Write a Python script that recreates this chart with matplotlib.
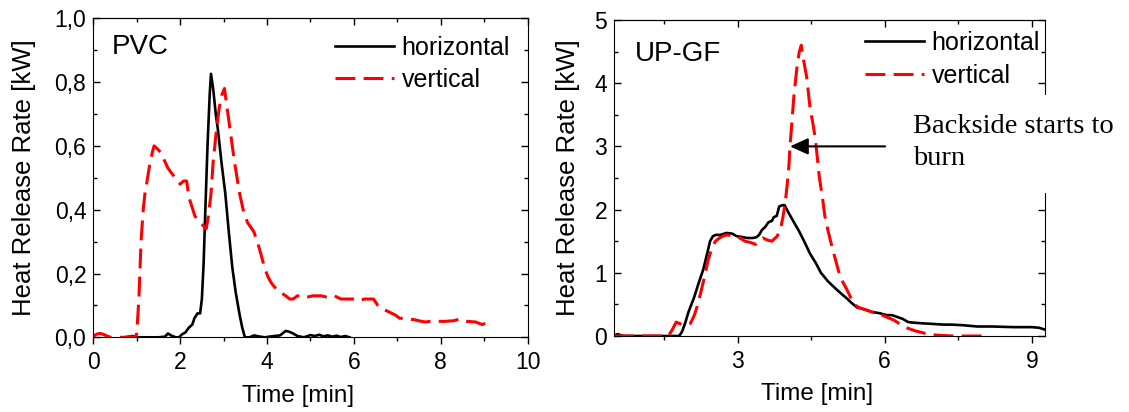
import matplotlib.pyplot as plt
from matplotlib.ticker import MultipleLocator, FuncFormatter
from matplotlib.patches import Rectangle

plt.rcParams['font.family'] = ['Liberation Sans', 'DejaVu Sans']

# PVC, horizontal sample
pvc_h_t = [0.75, 0.9, 1.0, 1.5, 1.65, 1.72, 1.8, 1.9, 1.97, 2.05, 2.12, 2.2, 2.28, 2.33,
           2.4, 2.46, 2.5, 2.54, 2.58, 2.63, 2.68, 2.71, 2.76, 2.82, 2.87, 2.95, 3.04,
           3.12, 3.2, 3.28, 3.37, 3.43, 3.49, 3.6, 3.7, 3.8, 3.95, 4.1, 4.3, 4.43, 4.5,
           4.6, 4.7, 4.85, 5.0, 5.1, 5.2, 5.3, 5.4, 5.5, 5.6, 5.7, 5.8, 5.9]
pvc_h = [0.0, 0.004, 0.0, 0.0, 0.002, 0.012, 0.005, 0.0, 0.0, 0.01, 0.015, 0.03, 0.04,
         0.06, 0.075, 0.075, 0.12, 0.23, 0.4, 0.6, 0.76, 0.826, 0.78, 0.7, 0.65, 0.55,
         0.45, 0.33, 0.22, 0.14, 0.07, 0.03, 0.0, 0.0, 0.006, 0.003, 0.0, 0.003, 0.006,
         0.02, 0.018, 0.012, 0.004, 0.0, 0.007, 0.004, 0.008, 0.003, 0.006, 0.002,
         0.005, 0.001, 0.004, 0.0]

# PVC, vertical sample
pvc_v_t = [0.0, 0.08, 0.15, 0.22, 0.3, 0.4, 0.55, 0.7, 0.85, 0.95, 1.0, 1.05, 1.1, 1.15,
           1.19, 1.25, 1.31, 1.36, 1.4, 1.48, 1.55, 1.62, 1.72, 1.8, 1.89, 2.0, 2.08,
           2.15, 2.2, 2.27, 2.34, 2.4, 2.46, 2.53, 2.6, 2.65, 2.71, 2.76, 2.82, 2.9,
           2.96, 3.02, 3.08, 3.15, 3.25, 3.37, 3.45, 3.55, 3.7, 3.82, 3.94, 4.02, 4.1,
           4.22, 4.32, 4.43, 4.52, 4.6, 4.7, 4.8, 4.9, 5.05, 5.25, 5.4, 5.55, 5.7, 5.85,
           6.0, 6.1, 6.25, 6.45, 6.55, 6.65, 6.8, 6.95, 7.05, 7.2, 7.4, 7.55, 7.65,
           7.75, 7.9, 8.1, 8.3, 8.45, 8.6, 8.8, 8.95, 9.05, 9.2]
pvc_v = [0.003, 0.01, 0.012, 0.01, 0.005, 0.0, 0.0, 0.0, 0.002, 0.0, 0.01, 0.12, 0.3,
         0.4, 0.45, 0.5, 0.55, 0.58, 0.6, 0.59, 0.58, 0.56, 0.53, 0.515, 0.5, 0.48,
         0.49, 0.49, 0.44, 0.41, 0.38, 0.37, 0.36, 0.35, 0.34, 0.38, 0.45, 0.55, 0.63,
         0.72, 0.76, 0.78, 0.72, 0.65, 0.55, 0.45, 0.4, 0.36, 0.33, 0.28, 0.22, 0.19,
         0.17, 0.15, 0.14, 0.13, 0.12, 0.12, 0.13, 0.13, 0.125, 0.13, 0.13, 0.125,
         0.13, 0.12, 0.12, 0.12, 0.115, 0.12, 0.12, 0.1, 0.09, 0.08, 0.07, 0.06, 0.058,
         0.055, 0.05, 0.048, 0.05, 0.05, 0.05, 0.052, 0.058, 0.05, 0.048, 0.04, 0.045,
         0.045]

# UP-GF, horizontal sample
upgf_h_t = [0.48, 0.52, 0.56, 0.62, 0.7, 0.9, 1.2, 1.5, 1.7, 1.81, 1.87, 1.93, 2.0, 2.11,
            2.2, 2.3, 2.38, 2.44, 2.5, 2.56, 2.65, 2.78, 2.89, 2.98, 3.07, 3.2, 3.3,
            3.38, 3.44, 3.5, 3.56, 3.63, 3.7, 3.74, 3.8, 3.85, 3.92, 3.96, 4.04, 4.15,
            4.26, 4.37, 4.48, 4.6, 4.7, 4.85, 5.0, 5.1, 5.22, 5.33, 5.44, 5.6, 5.74,
            5.9, 6.04, 6.15, 6.26, 6.37, 6.48, 6.6, 6.78, 7.0, 7.2, 7.37, 7.6, 7.89,
            8.2, 8.63, 9.0, 9.15, 9.27]
upgf_h = [0.0, 0.02, 0.03, 0.01, 0.0, 0.0, 0.0, 0.0, 0.0, 0.0, 0.07, 0.2, 0.38, 0.6,
          0.82, 1.05, 1.3, 1.5, 1.58, 1.6, 1.6, 1.63, 1.62, 1.58, 1.57, 1.55, 1.55,
          1.56, 1.6, 1.68, 1.72, 1.8, 1.82, 1.88, 1.9, 2.05, 2.07, 2.07, 1.95, 1.8,
          1.65, 1.48, 1.3, 1.15, 1.0, 0.86, 0.75, 0.68, 0.6, 0.52, 0.45, 0.42, 0.38,
          0.36, 0.33, 0.33, 0.3, 0.27, 0.22, 0.21, 0.2, 0.19, 0.18, 0.18, 0.17, 0.15,
          0.15, 0.14, 0.14, 0.13, 0.1]

# UP-GF, vertical sample
upgf_v_t = [0.48, 0.6, 0.8, 1.0, 1.2, 1.37, 1.59, 1.67, 1.75, 1.81, 1.9, 2.04, 2.12,
            2.19, 2.26, 2.33, 2.4, 2.48, 2.55, 2.63, 2.7, 2.78, 2.93, 3.05, 3.15, 3.26,
            3.37, 3.45, 3.52, 3.6, 3.7, 3.81, 3.88, 3.93, 3.97, 4.0, 4.04, 4.07, 4.11,
            4.15, 4.19, 4.22, 4.26, 4.3, 4.35, 4.41, 4.48, 4.54, 4.59, 4.63, 4.67, 4.73,
            4.78, 4.85, 4.93, 5.0, 5.07, 5.15, 5.22, 5.3, 5.37, 5.48, 5.59, 5.74, 5.89,
            6.04, 6.19, 6.33, 6.48, 6.63, 6.78, 6.95, 7.15, 7.37, 7.6, 7.8, 8.04]
upgf_v = [0.0, 0.0, 0.0, 0.0, 0.0, 0.0, 0.0, 0.1, 0.22, 0.2, 0.17, 0.2, 0.33, 0.5, 0.72,
          0.95, 1.2, 1.4, 1.5, 1.55, 1.58, 1.6, 1.58, 1.55, 1.5, 1.48, 1.45, 1.5, 1.55,
          1.52, 1.5, 1.58, 1.7, 1.9, 2.1, 2.3, 2.6, 3.0, 3.4, 3.8, 4.1, 4.3, 4.5, 4.6,
          4.35, 4.1, 3.6, 3.35, 3.1, 2.8, 2.5, 2.2, 1.9, 1.65, 1.4, 1.2, 1.0, 0.85, 0.75,
          0.62, 0.5, 0.45, 0.42, 0.38, 0.35, 0.3, 0.25, 0.18, 0.12, 0.08, 0.05, 0.02,
          0.01, 0.0, 0.0, 0.0, 0.0]

pvc_yticks = [0.0, 0.2, 0.4, 0.6, 0.8, 1.0]
pvc_xticks = [0, 2, 4, 6, 8, 10]
upgf_yticks = [0, 1, 2, 3, 4, 5]
upgf_xticks = [3, 6, 9]

fig = plt.figure(figsize=(11.29, 4.12), dpi=100)
ax1 = fig.add_axes([0.0826, 0.1813, 0.3848, 0.7743])
ax2 = fig.add_axes([0.5438, 0.1845, 0.3818, 0.767])

dash = (0, (6.5, 2.7))

# left panel: PVC
ax1.plot(pvc_h_t, pvc_h, color='black', lw=1.9, label='horizontal')
ax1.plot(pvc_v_t, pvc_v, color='red', lw=2.2, linestyle=dash, label='vertical')
ax1.set_xlim(0, 10)
ax1.set_ylim(0, 1.0)
ax1.set_xticks(pvc_xticks)
ax1.set_yticks(pvc_yticks)
ax1.xaxis.set_minor_locator(MultipleLocator(1))
ax1.yaxis.set_minor_locator(MultipleLocator(0.1))
ax1.yaxis.set_major_formatter(FuncFormatter(lambda v, p: f"{v:.1f}".replace('.', ',')))
ax1.text(0.043, 0.888, 'PVC', transform=ax1.transAxes, fontsize=20, va='baseline')

# right panel: UP-GF
ax2.plot(upgf_h_t, upgf_h, color='black', lw=1.9, label='horizontal')
ax2.plot(upgf_v_t, upgf_v, color='red', lw=2.2, linestyle=dash, label='vertical')
ax2.set_xlim(0.48, 9.27)
ax2.set_ylim(0, 5)
ax2.set_xticks(upgf_xticks)
ax2.set_yticks(upgf_yticks)
ax2.xaxis.set_minor_locator(MultipleLocator(1.5))
ax2.yaxis.set_minor_locator(MultipleLocator(0.5))
ax2.text(0.049, 0.870, 'UP-GF', transform=ax2.transAxes, fontsize=20, va='baseline')

for ax, xt, xminor, leg_x, leg_y, ls in [
        (ax1, pvc_xticks, 1, 0.556, 0.945, 0.32),
        (ax2, upgf_xticks, 1.5, 0.582, 0.965, 0.36)]:
    ax.tick_params(axis='y', which='both', direction='in', right=True, width=1,
                   labelsize=16.5, pad=5)
    ax.tick_params(axis='y', which='major', length=5)
    ax.tick_params(axis='y', which='minor', length=3)
    ax.tick_params(axis='x', which='both', direction='out', top=False, width=1,
                   labelsize=16.5, pad=5)
    ax.tick_params(axis='x', which='major', length=5)
    ax.tick_params(axis='x', which='minor', length=3)
    top = ax.secondary_xaxis('top')
    top.set_xticks(xt)
    top.xaxis.set_minor_locator(MultipleLocator(xminor))
    top.tick_params(which='both', direction='in', labeltop=False, width=1)
    top.tick_params(which='major', length=5)
    top.tick_params(which='minor', length=3)
    ax.set_xlabel('Time [min]', fontsize=17.5)
    ax.set_ylabel('Heat Release Rate [kW]', fontsize=18.5)
    ax.xaxis.set_label_coords(0.472, -0.15)
    ax.legend(loc='upper left', bbox_to_anchor=(leg_x, leg_y), frameon=False,
              fontsize=18, borderpad=0, borderaxespad=0, handlelength=2.35,
              handletextpad=0.32, labelspacing=ls)

ax1.yaxis.set_label_coords(-0.132, 0.5)
ax2.yaxis.set_label_coords(-0.079, 0.5)

# arrow pointing at the second peak
ax2.annotate('', xy=(4.07, 3.0), xytext=(6.01, 3.0),
             arrowprops=dict(arrowstyle='-|>,head_length=0.55,head_width=0.25',
                             color='black', lw=1.5, mutation_scale=20,
                             shrinkA=0, shrinkB=0))

# white note box sitting over the right frame
fig.add_artist(Rectangle((892 / 1129, (412 - 193) / 412), (1129 - 892) / 1129, 98 / 412,
                         transform=fig.transFigure, facecolor='white',
                         edgecolor='none', zorder=5))
fig.text(913 / 1129, 0.677, 'Backside starts to', fontsize=20.5,
         family='Liberation Serif', va='baseline', zorder=6)
fig.text(913 / 1129, 0.5995, 'burn', fontsize=20.5,
         family='Liberation Serif', va='baseline', zorder=6)

fig.savefig('out.png', dpi=100)
